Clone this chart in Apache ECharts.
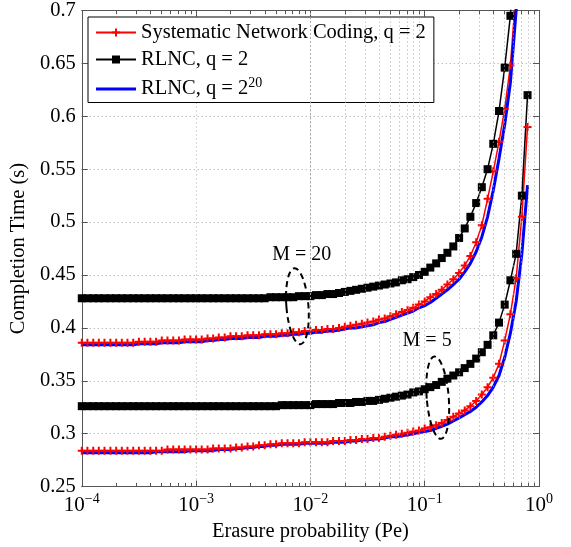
<!DOCTYPE html>
<html>
<head>
    <meta charset="utf-8">
    <title>Completion time vs erasure probability</title>
    <script src="https://cdn.jsdelivr.net/npm/echarts@6/dist/echarts.min.js"></script>
    <style>
        html, body { margin: 0; padding: 0; background: #fff; }
    </style>
</head>
<body>
    <div id="main" style="width: 571px;height:547px;"></div>
    <script type="text/javascript">
        // erasure probability grid (log spaced)
        var pe = [
            1e-4,1.12e-4,1.26e-4,1.41e-4,1.58e-4,1.78e-4,2e-4,2.24e-4,2.51e-4,2.82e-4,3.16e-4,3.55e-4,3.98e-4,4.47e-4,5.01e-4,5.62e-4,6.31e-4,7.08e-4,7.94e-4,8.91e-4,
            1e-3,1.12e-3,1.26e-3,1.41e-3,1.58e-3,1.78e-3,2e-3,2.24e-3,2.51e-3,2.82e-3,3.16e-3,3.55e-3,3.98e-3,4.47e-3,5.01e-3,5.62e-3,6.31e-3,7.08e-3,7.94e-3,8.91e-3,
            1e-2,1.12e-2,1.26e-2,1.41e-2,1.58e-2,1.78e-2,2e-2,2.24e-2,2.51e-2,2.82e-2,3.16e-2,3.55e-2,3.98e-2,4.47e-2,5.01e-2,5.62e-2,6.31e-2,7.08e-2,7.94e-2,8.91e-2,
            0.1,0.112,0.126,0.141,0.158,0.178,0.2,0.224,0.251,0.282,0.316,0.355,0.398,0.447,0.501,0.562,0.631,0.708,0.794
        ];

        // M = 20
        var sncM20 = [
            0.386,0.386,0.386,0.386,0.386,0.386,0.386,0.386,0.386,0.386,
            0.387,0.387,0.387,0.387,0.388,0.388,0.388,0.388,0.389,0.389,
            0.389,0.389,0.390,0.390,0.391,0.391,0.392,0.392,0.392,0.393,
            0.393,0.393,0.394,0.394,0.394,0.395,0.395,0.396,0.396,0.397,
            0.397,0.398,0.398,0.399,0.399,0.400,0.401,0.402,0.403,0.404,
            0.405,0.406,0.408,0.409,0.411,0.413,0.415,0.417,0.419,0.422,
            0.425,0.429,0.432,0.436,0.441,0.446,0.452,0.459,0.468,0.481,
            0.497,0.522,0.548,0.576,0.607,0.648,0.72,0.82,0.95
        ];
        var rlncQ2M20 = [
            0.428,0.428,0.428,0.428,0.428,0.428,0.428,0.428,0.428,0.428,
            0.428,0.428,0.428,0.428,0.428,0.428,0.428,0.428,0.428,0.428,
            0.428,0.428,0.428,0.428,0.428,0.428,0.428,0.428,0.428,0.428,
            0.428,0.428,0.428,0.429,0.429,0.429,0.429,0.429,0.430,0.430,
            0.430,0.431,0.431,0.432,0.432,0.433,0.434,0.435,0.436,0.437,
            0.438,0.439,0.440,0.441,0.442,0.443,0.445,0.446,0.448,0.450,
            0.453,0.457,0.461,0.466,0.471,0.477,0.485,0.494,0.505,0.518,
            0.533,0.550,0.574,0.605,0.646,0.695,0.78,0.88,1.0
        ];
        var rlncQ20M20 = [
            0.384,0.384,0.384,0.384,0.384,0.384,0.384,0.384,0.384,0.384,
            0.385,0.385,0.385,0.385,0.386,0.386,0.386,0.386,0.387,0.387,
            0.387,0.387,0.388,0.388,0.389,0.389,0.390,0.390,0.390,0.391,
            0.391,0.391,0.392,0.392,0.392,0.393,0.393,0.394,0.394,0.395,
            0.395,0.396,0.396,0.397,0.397,0.398,0.399,0.400,0.400,0.401,
            0.402,0.403,0.405,0.406,0.408,0.410,0.412,0.414,0.416,0.419,
            0.421,0.424,0.428,0.432,0.436,0.441,0.446,0.453,0.461,0.472,
            0.486,0.505,0.530,0.560,0.592,0.632,0.70,0.80,0.92
        ];

        // M = 5
        var sncM5 = [
            0.284,0.284,0.284,0.284,0.284,0.284,0.284,0.284,0.284,0.284,
            0.284,0.284,0.284,0.284,0.284,0.285,0.285,0.285,0.285,0.285,
            0.285,0.285,0.285,0.286,0.286,0.286,0.286,0.287,0.287,0.288,
            0.288,0.289,0.289,0.290,0.290,0.291,0.291,0.291,0.291,0.292,
            0.292,0.292,0.292,0.292,0.293,0.293,0.293,0.294,0.294,0.295,
            0.295,0.296,0.296,0.297,0.298,0.299,0.300,0.301,0.302,0.303,
            0.305,0.306,0.308,0.310,0.313,0.316,0.319,0.322,0.326,0.331,
            0.337,0.344,0.353,0.366,0.388,0.413,0.447,0.505,0.590
        ];
        var rlncQ2M5 = [
            0.326,0.326,0.326,0.326,0.326,0.326,0.326,0.326,0.326,0.326,
            0.326,0.326,0.326,0.326,0.326,0.326,0.326,0.326,0.326,0.326,
            0.326,0.326,0.326,0.326,0.326,0.326,0.326,0.326,0.326,0.326,
            0.326,0.326,0.326,0.326,0.326,0.327,0.327,0.327,0.327,0.327,
            0.327,0.328,0.328,0.328,0.328,0.329,0.329,0.329,0.330,0.330,
            0.331,0.331,0.332,0.333,0.334,0.335,0.336,0.337,0.339,0.340,
            0.342,0.344,0.346,0.349,0.352,0.355,0.358,0.362,0.366,0.371,
            0.377,0.384,0.393,0.405,0.422,0.445,0.470,0.525,0.620
        ];
        var rlncQ20M5 = [
            0.282,0.282,0.282,0.282,0.282,0.282,0.282,0.282,0.282,0.282,
            0.282,0.282,0.282,0.283,0.283,0.283,0.283,0.283,0.283,0.284,
            0.284,0.284,0.284,0.284,0.285,0.285,0.285,0.286,0.286,0.287,
            0.287,0.288,0.288,0.289,0.289,0.290,0.290,0.290,0.290,0.291,
            0.291,0.291,0.291,0.291,0.292,0.292,0.292,0.293,0.293,0.294,
            0.294,0.295,0.295,0.296,0.297,0.297,0.298,0.299,0.300,0.301,
            0.302,0.303,0.305,0.307,0.309,0.312,0.315,0.318,0.321,0.325,
            0.330,0.336,0.344,0.355,0.372,0.395,0.425,0.470,0.535
        ];

        // minor grid positions (2..9 per decade)
        var minorX = [
            2e-4,3e-4,4e-4,5e-4,6e-4,7e-4,8e-4,9e-4,
            2e-3,3e-3,4e-3,5e-3,6e-3,7e-3,8e-3,9e-3,
            2e-2,3e-2,4e-2,5e-2,6e-2,7e-2,8e-2,9e-2,
            0.2,0.3,0.4,0.5,0.6,0.7,0.8,0.9
        ];

        var names = ['Systematic Network Coding, q = 2', 'RLNC, q = 2', 'RLNC, q = 2^20'];
        var FONT = 'Liberation Serif';
        var plusPath = 'path://M3,0h2v3h3v2h-3v3h-2v-3h-3v-2h3z';

        function pairs(ys) {
            return pe.map(function (x, i) { return [x, ys[i]]; });
        }

        function sncSeries(ys) {
            return { name: names[0], type: 'line', data: pairs(ys),
                symbol: plusPath, symbolSize: 8, showAllSymbol: true,
                lineStyle: { color: '#ff0000', width: 1.5 },
                itemStyle: { color: '#ff0000' } };
        }
        function rlnc2Series(ys) {
            return { name: names[1], type: 'line', data: pairs(ys),
                symbol: 'rect', symbolSize: 8, showAllSymbol: true,
                lineStyle: { color: '#000', width: 1.5 },
                itemStyle: { color: '#000' } };
        }
        function rlnc20Series(ys) {
            return { name: names[2], type: 'line', data: pairs(ys),
                symbol: 'none', lineStyle: { color: '#0000ff', width: 3 },
                itemStyle: { color: '#0000ff' } };
        }

        var gridLine = { color: '#aaa', width: 1, type: [1, 3] };
        var markData = [];
        minorX.forEach(function (m) {
            markData.push({ xAxis: m, lineStyle: gridLine });
            markData.push([{ coord: [m, 0.25], lineStyle: { color: '#555', width: 1, type: 'solid' } }, { coord: [m, 0.2535] }]);
            markData.push([{ coord: [m, 0.7], lineStyle: { color: '#555', width: 1, type: 'solid' } }, { coord: [m, 0.6965] }]);
        });

        var myChart = echarts.init(document.getElementById('main'));

        var option = {
            animation: false,
            backgroundColor: '#fff',
            grid: { left: 79, right: 32, top: 9, bottom: 58 },
            legend: {
                data: [
                    { name: names[0] },
                    { name: names[1] },
                    { name: names[2], icon: 'path://M0,0h40v3h-40z' }
                ],
                orient: 'vertical',
                left: 88, top: 17,
                backgroundColor: '#fff',
                borderColor: '#000', borderWidth: 1, borderRadius: 0,
                padding: [5, 8, 3, 7],
                itemGap: 6, itemWidth: 40, itemHeight: 10,
                textStyle: {
                    fontFamily: FONT, fontSize: 20.5, color: '#000',
                    rich: { s: { fontFamily: FONT, fontSize: 14, color: '#000', padding: [0, 0, 12, 0] } }
                },
                formatter: function (name) {
                    return name === names[2] ? 'RLNC, q = 2{s|20}' : name;
                }
            },
            xAxis: [{
                type: 'log', logBase: 10, min: 1e-4, max: 1,
                name: 'Erasure probability (Pe)', nameLocation: 'middle', nameGap: 27,
                nameTextStyle: { fontFamily: FONT, fontSize: 20.5, color: '#000' },
                axisLine: { lineStyle: { color: '#555' } },
                axisTick: { inside: true, length: 6, lineStyle: { color: '#555' } },
                splitLine: { show: true, lineStyle: gridLine },
                axisLabel: {
                    margin: 6,
                    formatter: function (v) {
                        var e = Math.round(Math.log(v) / Math.LN10);
                        return '{b|10}{s|' + (e < 0 ? '\u2212' + (-e) : e) + '}';
                    },
                    rich: {
                        b: { fontFamily: FONT, fontSize: 21, color: '#000' },
                        s: { fontFamily: FONT, fontSize: 14, color: '#000', padding: [0, 0, 12, 0] }
                    }
                }
            }, {
                type: 'log', logBase: 10, min: 1e-4, max: 1, position: 'top',
                axisLine: { lineStyle: { color: '#555' } },
                axisTick: { inside: true, length: 6, lineStyle: { color: '#555' } },
                axisLabel: { show: false }, splitLine: { show: false }
            }],
            yAxis: [{
                type: 'value', min: 0.25, max: 0.7, interval: 0.05,
                name: 'Completion Time (s)', nameLocation: 'middle', nameGap: 50,
                nameTextStyle: { fontFamily: FONT, fontSize: 20.5, color: '#000' },
                axisLine: { show: true, lineStyle: { color: '#555' } },
                axisTick: { show: true, inside: true, length: 6, lineStyle: { color: '#555' } },
                splitLine: { show: true, lineStyle: gridLine },
                axisLabel: { margin: 6, fontFamily: FONT, fontSize: 20.5, color: '#000' }
            }, {
                type: 'value', min: 0.25, max: 0.7, interval: 0.05, position: 'right',
                axisLine: { show: true, lineStyle: { color: '#555' } },
                axisTick: { show: true, inside: true, length: 6, lineStyle: { color: '#555' } },
                axisLabel: { show: false }, splitLine: { show: false }
            }],
            series: [
                {
                    name: 'grid', type: 'line', data: [[1e-4, 0.25]], symbol: 'none',
                    lineStyle: { opacity: 0 }, silent: true,
                    markLine: { silent: true, symbol: ['none', 'none'], label: { show: false },
                        animation: false, data: markData }
                },
                sncSeries(sncM20), rlnc2Series(rlncQ2M20), rlnc20Series(rlncQ20M20),
                sncSeries(sncM5), rlnc2Series(rlncQ2M5), rlnc20Series(rlncQ20M5)
            ]
        };

        myChart.setOption(option);

        // annotations placed through the axes
        function px(x, y) { return myChart.convertToPixel({ xAxisIndex: 0, yAxisIndex: 0 }, [x, y]); }
        function ellipseAt(x, y, dy, rx, rot) {
            var c = px(x, y), t = px(x, y + dy);
            return { type: 'ellipse', x: c[0], y: c[1], rotation: rot,
                shape: { cx: 0, cy: 0, rx: rx, ry: c[1] - t[1] },
                style: { fill: null, stroke: '#000', lineWidth: 2, lineDash: [6, 4] }, z: 100 };
        }
        function textAt(x, y, s) {
            var c = px(x, y);
            return { type: 'text', x: c[0], y: c[1], z: 100,
                style: { text: s, fontFamily: FONT, fontSize: 20, fill: '#000', align: 'center', verticalAlign: 'middle' } };
        }
        myChart.setOption({
            graphic: [
                ellipseAt(0.0077, 0.4205, 0.036, 11, 0.08),
                textAt(0.0084, 0.469, 'M = 20'),
                ellipseAt(0.13, 0.334, 0.039, 11, 0.08),
                textAt(0.105, 0.388, 'M = 5')
            ]
        });
    </script>
</body>
</html>
